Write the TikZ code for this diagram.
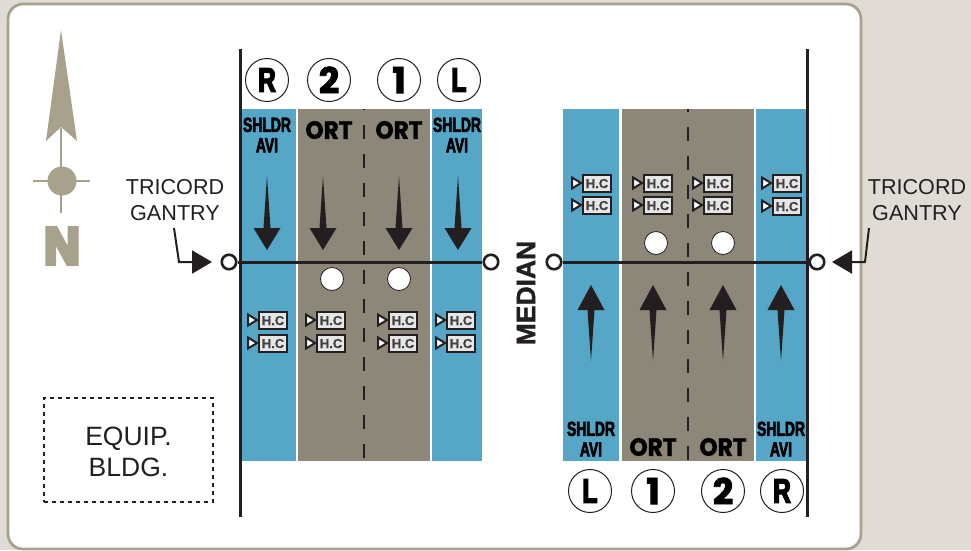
\documentclass[tikz,border=0pt]{standalone}
\usepackage{fontspec}
\setmainfont{Liberation Sans}
\newfontfamily\narrowbold[FakeStretch=0.68,FakeBold=3]{Liberation Sans Bold}
\newfontfamily\ringbold[FakeStretch=0.72,FakeBold=4]{Liberation Sans Bold}
\newfontfamily\widebold[FakeBold=1.5,FakeStretch=0.93]{Poppins Bold}
\newfontfamily\digitbold[FakeBold=2]{Poppins Bold}
\newfontfamily\strongbold[FakeBold=1.5]{Liberation Sans Bold}
\newfontfamily\hcbold[FakeBold=0.7]{Liberation Sans Bold}
\newfontfamily\compassbold[FakeBold=9,FakeStretch=0.95]{Liberation Sans Bold}
\usetikzlibrary{arrows.meta}
\definecolor{bgc}{HTML}{E0DCD5}
\definecolor{tan}{HTML}{A8A18C}
\definecolor{lanegray}{HTML}{8C8778}
\definecolor{laneblue}{HTML}{55A6C7}
\definecolor{ink}{HTML}{231F20}
\definecolor{hcfill}{HTML}{E6E6E6}
\tikzset{
  x=1pt,y=-1pt,
  panel/.style={draw=tan,line width=2.8pt,fill=white,rounded corners=15pt},
  bluelane/.style={fill=laneblue},
  graylane/.style={fill=lanegray},
  edgeline/.style={draw=ink,line width=3pt},
  gantryline/.style={draw=ink,line width=3pt},
  gantryend/.style={circle,draw=ink,line width=2.6pt,fill=white,minimum size=14.5pt,inner sep=0pt},
  lanedash/.style={draw=ink,line width=2.4pt,dash pattern=on 14pt off 15pt},
  dot/.style={circle,draw=ink,line width=.8pt,fill=white,minimum size=23pt,inner sep=0pt},
  lanering/.style={circle,draw=ink,line width=1pt,fill=white,minimum size=43pt,inner sep=0pt},
  ringletter/.style={lanering,font=\ringbold\fontsize{34}{34}\selectfont},
  ringdigit/.style={lanering,font=\digitbold\fontsize{36}{36}\selectfont},
  shldr/.style={align=center,inner sep=0pt,text=black,font=\narrowbold\fontsize{20.5}{20.5}\selectfont},
  ort/.style={inner sep=0pt,text=black,font=\widebold\fontsize{25}{25}\selectfont},
  hcbox/.style={draw=ink,line width=2.1pt,fill=hcfill,minimum width=28pt,minimum height=17pt,inner sep=0pt,anchor=north west,text=ink!85,font=\hcbold\fontsize{13}{13}\selectfont},
  hctri/.style={draw=ink,line width=2pt,fill=white,line join=miter},
  tallarrow/.style={fill=ink},
  label/.style={align=center,inner sep=0pt,text=ink,font=\fontsize{21.6}{26}\selectfont},
  leader/.style={draw=ink,line width=2pt,-{Triangle[length=20pt,width=23pt]}},
  compass/.style={fill=tan},
  compassline/.style={draw=tan,line width=2.8pt},
}
\newcommand{\hccam}[3]{%
  \node[hcbox] (#1) at (#2,#3) {H.C};
  \draw[hctri] (#2-10,#3+3.5) -- (#2-1,#3+9) -- (#2-10,#3+14.5) -- cycle;
}
\newcommand{\downarrowshape}[1]{%
  \fill[tallarrow] (#1,176) -- (#1+3.5,228) -- (#1+13.5,228) -- (#1,250) -- (#1-13.5,228) -- (#1-3.5,228) -- cycle;
}
\newcommand{\uparrowshape}[1]{%
  \fill[tallarrow] (#1,361) -- (#1+3.5,310) -- (#1+13.5,310) -- (#1,285) -- (#1-13.5,310) -- (#1-3.5,310) -- cycle;
}
\begin{document}
\begin{tikzpicture}
\useasboundingbox (0,0) rectangle (971,550);
\fill[bgc] (0,0) rectangle (971,550);
\path[panel] (8,4) rectangle (861,549);

% lanes
\fill[bluelane] (240,109) rectangle (296,461);
\fill[graylane] (298,109) rectangle (430,461);
\fill[bluelane] (432,109) rectangle (482,461);
\fill[bluelane] (563,109) rectangle (619,461);
\fill[graylane] (622,109) rectangle (754,461);
\fill[bluelane] (756,109) rectangle (807,461);

% lane dividers
\coordinate (dashLtop) at (364,109);
\coordinate (dashLbot) at (364,461);
\coordinate (dashRtop) at (688,109);
\coordinate (dashRbot) at (688,461);
\draw[lanedash,dash phase=13pt] (dashLtop) -- (dashLbot);
\draw[lanedash,dash phase=11pt] (dashRtop) -- (dashRbot);

% road edges
\coordinate (edgeLtop) at (240,49);
\coordinate (edgeLbot) at (240,517);
\coordinate (edgeRtop) at (807,49);
\coordinate (edgeRbot) at (807,517);
\draw[edgeline] (edgeLtop) -- (edgeLbot);
\draw[edgeline] (edgeRtop) -- (edgeRbot);

% gantries
\node[gantryend] (gLa) at (229,262) {};
\node[gantryend] (gLb) at (491,262) {};
\node[gantryend] (gRa) at (554,262) {};
\node[gantryend] (gRb) at (817,262) {};
\draw[gantryline] (gLa) -- (gLb);
\draw[gantryline] (gRa) -- (gRb);

% loop dots
\node[dot] (dotL1) at (332,279) {};
\node[dot] (dotL2) at (399,279) {};
\node[dot] (dotR1) at (656,243) {};
\node[dot] (dotR2) at (723,243) {};

% lane rings
\node[ringletter] (ringTR) at (267,80) {R};
\node[ringdigit]  (ringT2) at (329,80) {2};
\node[ringdigit]  (ringT1) at (399,80) {1};
\node[ringletter] (ringTL) at (459,80) {L};
\node[ringletter] (ringBL) at (590,491) {L};
\node[ringdigit]  (ringB1) at (653,491) {1};
\node[ringdigit]  (ringB2) at (723,491) {2};
\node[ringletter] (ringBR) at (782,491) {R};

% lane labels
\node[shldr] (shTL) at (267,135) {SHLDR\\AVI};
\node[shldr] (shTR) at (457,135) {SHLDR\\AVI};
\node[shldr] (shBL) at (591,439) {SHLDR\\AVI};
\node[shldr] (shBR) at (781,439) {SHLDR\\AVI};
\node[ort] (ortT2) at (329,130) {ORT};
\node[ort] (ortT1) at (399,130) {ORT};
\node[ort] (ortB1) at (653,447) {ORT};
\node[ort] (ortB2) at (723,447) {ORT};

% direction arrows
\downarrowshape{267}
\downarrowshape{323}
\downarrowshape{399}
\downarrowshape{458}
\uparrowshape{591}
\uparrowshape{653}
\uparrowshape{723}
\uparrowshape{781}

% H.C cameras
\hccam{hcA}{258}{311}\hccam{hcB}{258}{334}
\hccam{hcC}{316}{311}\hccam{hcD}{316}{334}
\hccam{hcE}{388}{311}\hccam{hcF}{388}{334}
\hccam{hcG}{446}{311}\hccam{hcH}{446}{334}
\hccam{hcI}{582}{174}\hccam{hcJ}{582}{196}
\hccam{hcK}{643}{174}\hccam{hcL}{643}{196}
\hccam{hcM}{703}{174}\hccam{hcN}{703}{196}
\hccam{hcO}{772}{174}\hccam{hcP}{772}{197}

% median
\node[rotate=90,inner sep=0pt,text=ink,font=\strongbold\fontsize{26.5}{26.5}\selectfont] (median) at (526,293) {MEDIAN};

% tricord gantry labels
\node[label] (triL) at (175,200) {TRICORD\\GANTRY};
\node[label] (triR) at (917,200) {TRICORD\\GANTRY};
\coordinate (triLbend) at (179,262);
\coordinate (triLtip) at (212,262);
\coordinate (triLstart) at (174,228);
\coordinate (triRbend) at (865,262);
\coordinate (triRtip) at (832,262);
\coordinate (triRstart) at (869,228);
\draw[leader] (triLstart) -- (triLbend) -- (triLtip);
\draw[leader] (triRstart) -- (triRbend) -- (triRtip);

% equipment building
\node[draw=ink,line width=1.8pt,dash pattern=on 4pt off 4pt,minimum width=169pt,minimum height=104pt,inner sep=0pt,text=ink] (equip) at (128.5,450) {};
\node[align=center,inner sep=0pt,text=ink,font=\fontsize{26.5}{31}\selectfont] (equipText) at (128.5,452) {EQUIP.\\BLDG.};

% compass
\draw[compassline] (61,128) -- (61,213);
\draw[compassline] (33,181) -- (90,181);
\fill[compass] (62,181) circle (14.5);
\fill[compass] (61,30) -- (77,141) -- (61,127) -- (46,141) -- cycle;
\node[inner sep=0pt,text=tan,font=\compassbold\fontsize{51}{51}\selectfont] (north) at (62,246) {N};
\end{tikzpicture}
\end{document}
